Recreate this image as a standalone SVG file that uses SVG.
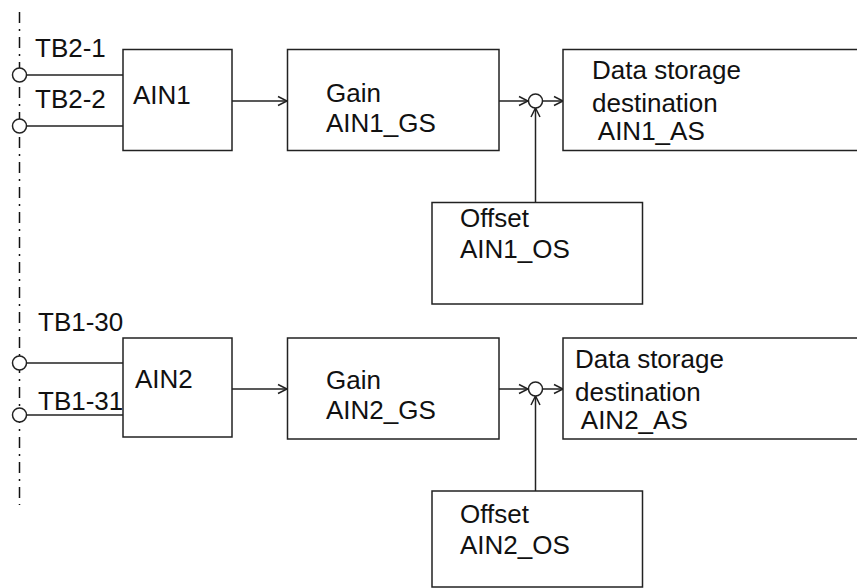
<svg xmlns="http://www.w3.org/2000/svg" width="857" height="588" viewBox="0 0 857 588">
<style>
.box{fill:#fff;stroke:#222;stroke-width:1.5}
.ln{fill:none;stroke:#222;stroke-width:1.5}
.term{fill:#fff;stroke:#222;stroke-width:1.5}
.dd{fill:none;stroke:#111;stroke-width:1.5;stroke-dasharray:11 6 2 6}
text{font-family:"Liberation Sans",Arial,sans-serif;font-size:26px;fill:#111}
</style>
<defs>
<marker id="arr" markerUnits="userSpaceOnUse" markerWidth="12" markerHeight="12" viewBox="0 0 12 12" refX="10" refY="6" orient="auto">
<path d="M1,1.5 L10,6 L1,10.5" fill="none" stroke="#222" stroke-width="1.5"/>
</marker>
</defs>
<rect width="857" height="588" fill="#fff"/>
<g id="connectors">
<line class="dd" x1="19.5" y1="12" x2="19.5" y2="505"/>
<line class="ln" x1="26" y1="75" x2="123" y2="75"/>
<line class="ln" x1="26" y1="126" x2="123" y2="126"/>
<line class="ln" x1="26" y1="363" x2="123" y2="363"/>
<line class="ln" x1="26" y1="415" x2="123" y2="415"/>
<line class="ln" x1="232" y1="101" x2="287" y2="101" marker-end="url(#arr)"/>
<line class="ln" x1="499" y1="101" x2="528" y2="101" marker-end="url(#arr)"/>
<line class="ln" x1="542" y1="101" x2="563" y2="101" marker-end="url(#arr)"/>
<line class="ln" x1="535.5" y1="202" x2="535.5" y2="108" marker-end="url(#arr)"/>
<line class="ln" x1="232" y1="389" x2="287" y2="389" marker-end="url(#arr)"/>
<line class="ln" x1="499" y1="389" x2="528" y2="389" marker-end="url(#arr)"/>
<line class="ln" x1="542" y1="389" x2="563" y2="389" marker-end="url(#arr)"/>
<line class="ln" x1="535.5" y1="491" x2="535.5" y2="396" marker-end="url(#arr)"/>
</g>
<g id="tb2-1"><circle class="term" cx="19.5" cy="75" r="7"/><text x="35" y="57">TB2-1</text></g>
<g id="tb2-2"><circle class="term" cx="19.5" cy="126" r="7"/><text x="35" y="108">TB2-2</text></g>
<g id="tb1-30"><circle class="term" cx="19.5" cy="363" r="7"/><text x="38" y="331">TB1-30</text></g>
<g id="tb1-31"><circle class="term" cx="19.5" cy="415" r="7"/><text x="38" y="410">TB1-31</text></g>
<g id="ain1"><rect class="box" x="123" y="49.5" width="109" height="101"/><text x="133" y="104">AIN1</text></g>
<g id="gain1"><rect class="box" x="287.5" y="49.5" width="211.5" height="101"/><text x="326" y="101.5">Gain</text><text x="326" y="131.5">AIN1_GS</text></g>
<g id="sum1"><circle class="term" cx="535.5" cy="101" r="7"/></g>
<g id="data1"><rect class="box" x="563" y="49.5" width="300" height="101"/><text x="592" y="79">Data storage</text><text x="592" y="112">destination</text><text x="592" y="140" xml:space="preserve"> AIN1_AS</text></g>
<g id="offset1"><rect class="box" x="432" y="202.5" width="210.5" height="101.5"/><text x="460" y="227">Offset</text><text x="460" y="258">AIN1_OS</text></g>
<g id="ain2"><rect class="box" x="123" y="338" width="109" height="99"/><text x="135" y="388">AIN2</text></g>
<g id="gain2"><rect class="box" x="287.5" y="338" width="211.5" height="101"/><text x="326" y="389">Gain</text><text x="326" y="419">AIN2_GS</text></g>
<g id="sum2"><circle class="term" cx="535.5" cy="389" r="7"/></g>
<g id="data2"><rect class="box" x="563" y="338" width="300" height="101"/><text x="575" y="368">Data storage</text><text x="575" y="401">destination</text><text x="575" y="429" xml:space="preserve"> AIN2_AS</text></g>
<g id="offset2"><rect class="box" x="432" y="491" width="210.5" height="96"/><text x="460" y="523">Offset</text><text x="460" y="554">AIN2_OS</text></g>
</svg>
